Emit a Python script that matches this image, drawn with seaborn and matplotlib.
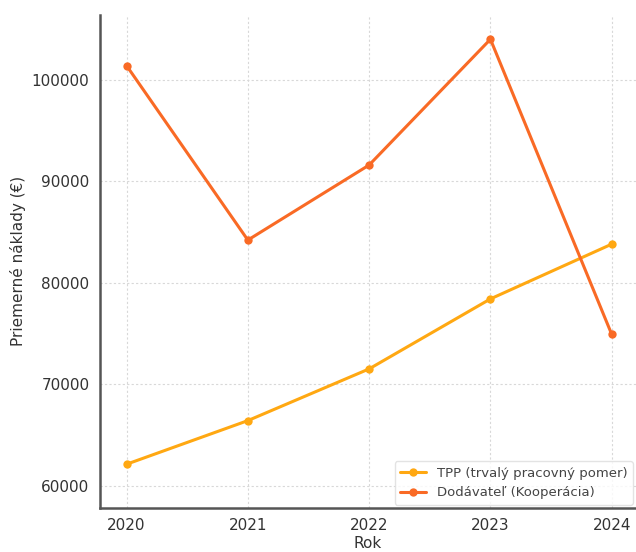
import numpy as np
import pandas as pd
import matplotlib
matplotlib.use("Agg")
import matplotlib.pyplot as plt
import seaborn as sns

years = [2020, 2021, 2022, 2023, 2024]
tpp_costs = [62100, 66400, 71500, 78400, 83800]
supplier_costs = [101400, 84200, 91600, 104000, 74900]
series_names = ["TPP (trvalý pracovný pomer)", "Dodávateľ (Kooperácia)"]
colors = ["#FFA812", "#F96A25"]

df = pd.DataFrame({
    "Rok": years * 2,
    "Naklady": tpp_costs + supplier_costs,
    "Typ": [series_names[0]] * len(years) + [series_names[1]] * len(years),
})

sns.set_style("white")
plt.rcParams['font.family'] = ['DejaVu Sans']

fig = plt.figure(figsize=(6.36, 5.52), dpi=100)
ax = fig.add_axes([0.157, 0.08, 0.843, 0.893])

sns.lineplot(data=df, x="Rok", y="Naklady", hue="Typ", palette=colors,
             marker="o", markersize=6, markeredgewidth=0, linewidth=2.2, ax=ax)

ax.set_xticks(years)
ax.set_ylim(57800, 106400)
ax.set_xlim(2019.78, 2024.2)
ax.grid(True, linestyle=(0, (2, 2)), color="#d8d8d8", linewidth=0.8)
ax.set_axisbelow(True)

for s in ["top", "right"]:
    ax.spines[s].set_visible(False)
for s in ["left", "bottom"]:
    ax.spines[s].set_color("#555555")
    ax.spines[s].set_linewidth(1.8)

ax.tick_params(axis="both", labelsize=11, colors="#333333", length=4, width=1, direction="out")
ax.set_xlabel("Rok", fontsize=11, color="#333333", labelpad=2)
ax.set_ylabel("Priemerné náklady (€)", fontsize=11, color="#333333")

leg = ax.legend(loc="lower right", fontsize=9.5, frameon=True, borderaxespad=0.25)
leg.get_frame().set_edgecolor("#dddddd")
for t in leg.get_texts():
    t.set_color("#444444")

fig.savefig("out.png", dpi=100)
